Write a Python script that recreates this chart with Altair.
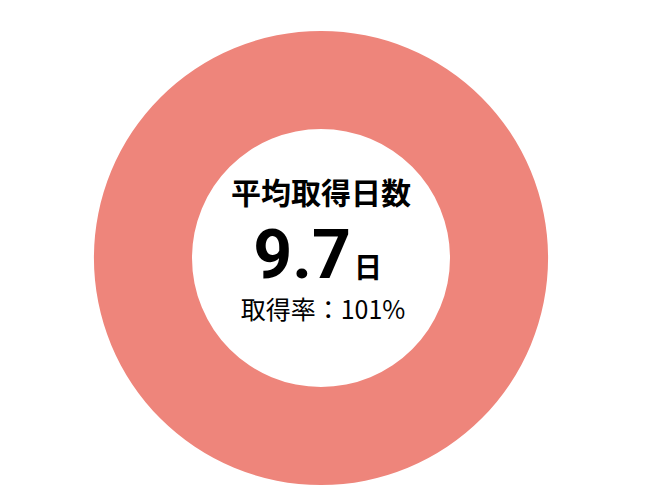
import altair as alt
import pandas as pd

categories = ["取得率"]
values = [101]
title_label = "平均取得日数"
avg_value = "9.7"
avg_unit = "日"
rate_label = "取得率：101%"

ring = pd.DataFrame({"category": categories, "value": values})

CX, CY = 313, 250
FONT = "Noto Sans CJK JP"

arc = alt.Chart(ring).mark_arc(innerRadius=129, outerRadius=227, color="#EE857B", stroke=None).encode(
    theta=alt.Theta("value:Q"),
    x=alt.value(CX), y=alt.value(CY),
)

def txt(s, dx, dy, size, weight, align="center"):
    return alt.Chart(pd.DataFrame({"t": [s]})).mark_text(
        font=FONT, fontSize=size, fontWeight=weight, color="#000000",
        align=align, baseline="middle",
    ).encode(text="t:N", x=alt.value(CX + dx), y=alt.value(CY + dy))

t1 = txt(title_label, 0, -63, 30, "bold")
t2 = alt.Chart(pd.DataFrame({"t": [avg_value]})).mark_text(
    font="Roboto", fontSize=68, fontWeight="bold", color="#000000",
    align="right", baseline="alphabetic", dx=0
).encode(text="t:N", x=alt.value(CX + 30), y=alt.value(CY + 20))
t3 = alt.Chart(pd.DataFrame({"t": [avg_unit]})).mark_text(
    font=FONT, fontSize=28, fontWeight="bold", color="#000000",
    align="left", baseline="alphabetic"
).encode(text="t:N", x=alt.value(CX + 33), y=alt.value(CY + 20))
t4 = txt(rate_label, 2, 53, 25, "normal")

chart = alt.layer(arc, t1, t2, t3, t4).properties(
    width=630, height=480, padding=0
).configure_view(stroke=None)

chart.save("out.html", embed_options={"renderer": "svg", "actions": False})
